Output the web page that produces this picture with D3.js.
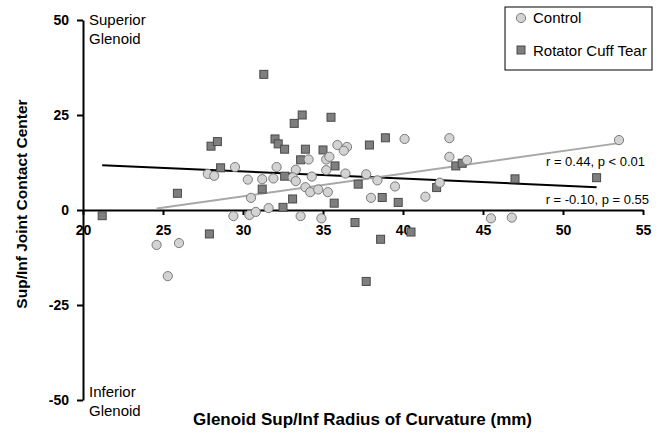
<!DOCTYPE html>
<html><head><meta charset="utf-8">
<script src="https://cdn.jsdelivr.net/npm/d3@7"></script>
<style>
body{margin:0;background:#fff;}
svg{display:block;font-family:"Liberation Sans",Arial,sans-serif;}
</style></head>
<body><svg id="c" width="666" height="434"></svg>
<script>
// Control group (circles): [radius of curvature, joint contact center]
const controlX = [24.6,26.0,25.3,29.4,30.4,30.8,31.6,33.6,34.9,45.5,46.8,29.5,27.8,28.2,30.3,31.2,31.9,30.5,32.1,35.9,36.5,36.3,40.1,42.9,42.9,44.0,34.1,35.2,35.4,35.2,33.3,36.4,37.7,33.1,33.3,34.3,38.4,39.5,33.9,34.2,34.7,35.3,38.0,41.4,42.3,53.5];
const controlY = [-9.2,-8.7,-17.4,-1.6,-1.3,-0.5,0.5,-1.6,-2.2,-2.2,-2.0,11.3,9.5,9.0,8.0,8.1,8.3,3.2,11.3,17.1,16.6,15.6,18.7,18.9,14.0,13.1,13.3,13.3,14.0,10.5,10.6,9.6,9.4,8.6,7.6,8.8,7.8,6.2,6.0,4.7,5.4,4.7,3.2,3.5,7.2,18.4];
// Rotator cuff tear group (squares)
const tearX = [21.2,25.9,27.9,32.5,37.0,38.6,37.7,40.5,35.7,39.7,38.7,31.3,28.0,28.4,28.6,31.2,32.0,32.2,33.2,33.7,35.5,32.6,33.9,35.0,37.9,38.9,43.3,43.7,33.6,35.75,32.6,37.2,42.1,33.1,47.0,52.1];
const tearY = [-1.5,4.4,-6.3,0.7,-3.3,-7.7,-18.8,-5.8,1.8,2.0,3.3,35.7,16.8,18.0,11.1,5.5,18.7,17.4,22.8,25.0,24.4,16.0,16.0,15.8,17.1,19.0,11.6,12.3,13.2,11.6,8.9,6.8,5.9,2.9,8.2,8.5];
// Regression line end points
const controlFitX = [24.6, 53.5];
const controlFitY = [0.4, 17.6];
const tearFitX = [21.2, 52.1];
const tearFitY = [11.8, 6.0];
const xTicks = [20,25,30,35,40,45,50,55];
const yTicks = [-50,-25,0,25,50];
const seriesNames = ["Control","Rotator Cuff Tear"];
const statLabels = ["r = 0.44, p < 0.01","r = -0.10, p = 0.55"];

const svg = d3.select("#c");
const x = d3.scaleLinear().domain([20,55]).range([83,643]);
const y = d3.scaleLinear().domain([-50,50]).range([400,20]);
const fmt = d => String(d);

// y axis
const yAxis = d3.axisLeft(y).tickValues(yTicks).tickFormat(fmt).tickSize(6).tickSizeOuter(0).tickPadding(8);
const gy = svg.append("g").attr("transform","translate("+x(20)+",0)").call(yAxis);
gy.select(".domain").attr("stroke","#000").attr("stroke-width",2);
gy.selectAll(".tick line").attr("stroke","#000").attr("stroke-width",2);
gy.selectAll(".tick text").attr("font-size",14).attr("font-weight","bold").attr("fill","#000");

// x axis at y=0
const xAxis = d3.axisBottom(x).tickValues(xTicks).tickFormat(fmt).tickSize(5).tickSizeOuter(0).tickPadding(10);
const gx = svg.append("g").attr("transform","translate(0,"+y(0)+")").call(xAxis);
gx.select(".domain").attr("stroke","#000").attr("stroke-width",2);
gx.selectAll(".tick line").attr("stroke","#000").attr("stroke-width",2);
gx.selectAll(".tick text").attr("font-size",14).attr("font-weight","bold").attr("fill","#000");

// Fit lines
svg.append("line").attr("x1",x(tearFitX[0])).attr("y1",y(tearFitY[0])).attr("x2",x(tearFitX[1])).attr("y2",y(tearFitY[1]))
  .attr("stroke","#000").attr("stroke-width",2);
svg.append("line").attr("x1",x(controlFitX[0])).attr("y1",y(controlFitY[0])).attr("x2",x(controlFitX[1])).attr("y2",y(controlFitY[1]))
  .attr("stroke","#a8a8a8").attr("stroke-width",2);

// squares
const sq = 8;
svg.append("g").selectAll("rect").data(tearX.map((v,i)=>[v,tearY[i]])).join("rect")
  .attr("x",d=>x(d[0])-sq/2).attr("y",d=>y(d[1])-sq/2).attr("width",sq).attr("height",sq)
  .attr("fill","#7f7f7f").attr("stroke","#4a4a4a").attr("stroke-width",1);
// circles
svg.append("g").selectAll("circle").data(controlX.map((v,i)=>[v,controlY[i]])).join("circle")
  .attr("cx",d=>x(d[0])).attr("cy",d=>y(d[1])).attr("r",4.6)
  .attr("fill","#d3d3d3").attr("stroke","#7a7a7a").attr("stroke-width",1);

// stats labels
svg.append("text").attr("x",645).attr("y",166).attr("text-anchor","end").attr("font-size",13).text(statLabels[0]);
svg.append("text").attr("x",649).attr("y",204).attr("text-anchor","end").attr("font-size",13).text(statLabels[1]);

// Region labels
const reg = svg.append("g").attr("font-size",15).attr("fill","#000");
reg.append("text").attr("x",89).attr("y",25).text("Superior");
reg.append("text").attr("x",89).attr("y",43.5).text("Glenoid");
reg.append("text").attr("x",89).attr("y",397).text("Inferior");
reg.append("text").attr("x",89).attr("y",415.5).text("Glenoid");

// Axis titles
svg.append("text").attr("x",362.5).attr("y",425).attr("text-anchor","middle").attr("font-size",17).attr("font-weight","bold")
  .text("Glenoid Sup/Inf Radius of Curvature (mm)");
svg.append("text").attr("transform","translate(27,204) rotate(-90)").attr("text-anchor","middle").attr("font-size",15.5).attr("font-weight","bold")
  .text("Sup/Inf Joint Contact Center");

// Legend
const lg = svg.append("g");
lg.append("rect").attr("x",505).attr("y",7).attr("width",147).attr("height",63).attr("fill","#fff").attr("stroke","#000").attr("stroke-width",1);
lg.append("circle").attr("cx",521).attr("cy",18).attr("r",4.6).attr("fill","#d3d3d3").attr("stroke","#7a7a7a");
lg.append("rect").attr("x",521-sq/2).attr("y",50-sq/2).attr("width",sq).attr("height",sq).attr("fill","#7f7f7f").attr("stroke","#4a4a4a");
lg.append("text").attr("x",533).attr("y",23).attr("font-size",15).text(seriesNames[0]);
lg.append("text").attr("x",533).attr("y",55.5).attr("font-size",15).text(seriesNames[1]);
</script></body></html>
